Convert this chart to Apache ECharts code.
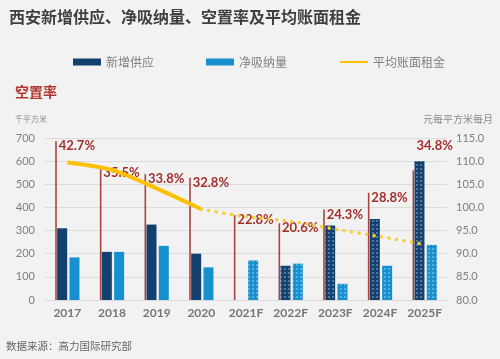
<!DOCTYPE html>
<html><head><meta charset="utf-8">
<script src="https://cdn.jsdelivr.net/npm/echarts@6/dist/echarts.min.js"></script>
<style>html,body{margin:0;padding:0;background:#f2f2f2}#c{width:500px;height:359px}</style>
</head><body><div id="c"></div><script>
const categories = ['2017','2018','2019','2020','2021F','2022F','2023F','2024F','2025F'];
const newSupply = [310, 208, 326, 200, 0, 148, 322, 350, 600];
const netAbsorption = [184, 208, 234, 141, 171, 157, 70, 148, 238];
const vacancyRate = [42.7, 35.5, 33.8, 32.8, 22.8, 20.6, 24.3, 28.8, 34.8];
const avgRent = [109.7, 108.1, 104.1, 99.6, 98.0, 97.0, 95.3, 93.7, 92.0];
const leftTicks = [0, 100, 200, 300, 400, 500, 600, 700];
const rightTicks = [80, 85, 90, 95, 100, 105, 110, 115];

const firstForecast = categories.findIndex(c => c.endsWith('F'));
const lastActual = firstForecast - 1;
const tallestVacancyIdx = newSupply.indexOf(Math.max(...newSupply));

const decal = {
  symbol: 'circle', symbolSize: 0.75,
  dashArrayX: [1.4, 1.1], dashArrayY: [1.4, 1.1],
  color: 'rgba(255,255,255,0.7)', rotation: 0
};
const barItems = arr => arr.map((v, i) => i >= firstForecast ? { value: v, itemStyle: { decal } } : v);
const rentSolid = avgRent.map((v, i) => i <= lastActual ? v : '-');
const rentDotted = avgRent.map((v, i) => i >= lastActual ? v : '-');
const vacItems = vacancyRate.map((v, i) => i === tallestVacancyIdx
  ? { value: v, label: { position: [4, -25] } } : v);

const chart = echarts.init(document.getElementById('c'), null, { renderer: 'canvas' });
chart.setOption({
  backgroundColor: '#f2f2f2',
  animation: false,
  textStyle: { fontFamily: "Lato, 'Noto Sans CJK SC', sans-serif" },
  title: {
    text: '西安新增供应、净吸纳量、空置率及平均账面租金',
    left: 9, top: 9, padding: 0,
    textStyle: { fontSize: 16, fontWeight: 'bold', color: '#3f3f3f', fontFamily: "'Noto Sans CJK SC', sans-serif" }
  },
  legend: {
    left: 68, top: 51, itemWidth: 28, itemHeight: 7, itemGap: 52,
    textStyle: { color: '#808080', fontSize: 12, fontFamily: "'Noto Sans CJK SC', sans-serif" },
    data: [{ name: '新增供应', icon: 'rect' }, { name: '净吸纳量', icon: 'rect' },
      { name: '平均账面租金', itemStyle: { opacity: 0 } }]
  },
  graphic: [
    { type: 'text', left: 15, top: 85, style: { text: '空置率', fontSize: 14, fontWeight: 'bold', fill: '#b0392f', fontFamily: "'Noto Sans CJK SC', sans-serif" } },
    { type: 'text', left: 15, top: 115, style: { text: '千平方米', fontSize: 8, fill: '#8c8c8c', fontFamily: "'Noto Sans CJK SC', sans-serif" } },
    { type: 'text', right: 7, top: 114, style: { text: '元每平方米每月', fontSize: 10, fill: '#8c8c8c', fontFamily: "'Noto Sans CJK SC', sans-serif" } },
    { type: 'text', left: 6, top: 341, style: { text: '数据来源：高力国际研究部', fontSize: 10.5, fill: '#666666', fontFamily: "'Noto Sans CJK SC', sans-serif" } }
  ],
  grid: { left: 45, right: 53, top: 138, bottom: 59 },
  xAxis: {
    type: 'category', data: categories,
    axisLine: { show: true, lineStyle: { color: '#d9d9d9' } },
    axisTick: { show: false },
    axisLabel: { color: '#767676', fontSize: 12, fontWeight: 'bold', margin: 7, interval: 0 }
  },
  yAxis: [
    { type: 'value', min: leftTicks[0], max: leftTicks[leftTicks.length - 1], interval: leftTicks[1] - leftTicks[0],
      axisLine: { show: false }, axisTick: { show: false },
      axisLabel: { color: '#7f7f7f', fontSize: 11, margin: 10 },
      splitLine: { lineStyle: { color: '#dcdcdc' } } },
    { type: 'value', min: rightTicks[0], max: rightTicks[rightTicks.length - 1], interval: rightTicks[1] - rightTicks[0],
      axisLine: { show: false }, axisTick: { show: false },
      axisLabel: { color: '#7f7f7f', fontSize: 11, margin: 9, formatter: v => v.toFixed(1) },
      splitLine: { show: false } },
    { type: 'value', min: 0, max: 43.5, show: false, splitLine: { show: false } }
  ],
  series: [
    { name: '空置率', type: 'bar', yAxisIndex: 2, barWidth: 1.6, barGap: '23%',
      itemStyle: { color: '#a9443f' }, data: vacItems,
      label: { show: true, position: [3.5, 5], align: 'left', verticalAlign: 'middle',
        formatter: p => p.value.toFixed(1) + '%', color: '#a3302b', fontSize: 13, fontWeight: 'bold' } },
    { name: '新增供应', type: 'bar', yAxisIndex: 0, barWidth: 10, barGap: '23%',
      itemStyle: { color: '#12406f' }, data: barItems(newSupply) },
    { name: '净吸纳量', type: 'bar', yAxisIndex: 0, barWidth: 10, barGap: '23%',
      itemStyle: { color: '#1790cf' }, data: barItems(netAbsorption) },
    { name: '平均账面租金', type: 'line', yAxisIndex: 1, data: rentSolid, smooth: 0.25,
      symbol: 'none', lineStyle: { color: '#ffc000', width: 4 }, itemStyle: { color: '#ffc000' }, z: 5 },
    { name: '平均账面租金（预测）', type: 'line', yAxisIndex: 1, data: rentDotted, smooth: 0.25,
      symbol: 'none', lineStyle: { color: '#f5cf3a', width: 3.5, type: [0.1, 7.5], cap: 'round' },
      itemStyle: { color: '#ffc000' }, z: 5 }
  ]
});
</script></body></html>
